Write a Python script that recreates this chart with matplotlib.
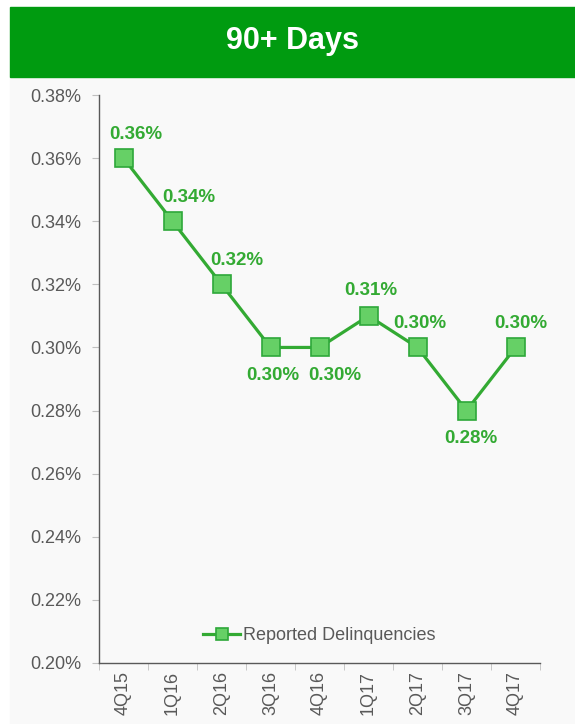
import numpy as np
import matplotlib.pyplot as plt
from matplotlib.patches import Rectangle

quarters = ['4Q15', '1Q16', '2Q16', '3Q16', '4Q16', '1Q17', '2Q17', '3Q17', '4Q17']
delinq = [0.36, 0.34, 0.32, 0.30, 0.30, 0.31, 0.30, 0.28, 0.30]
yticks = [0.20, 0.22, 0.24, 0.26, 0.28, 0.30, 0.32, 0.34, 0.36, 0.38]
# label offsets from the marker, in points (dx, dy); labels centred on that spot
label_off = [(9, 17), (11.5, 17), (11, 17), (1.5, -20), (11, -20),
             (2, 18), (2, 17), (3, -20), (3.5, 17)]

plt.rcParams['font.family'] = ['Liberation Sans', 'DejaVu Sans']

fig = plt.figure(figsize=(5.75, 7.24), dpi=100)
W, H = 575, 724
# panel background and title bar
fig.patches.append(Rectangle((10 / W, 0), 565 / W, 1 - 77 / H, transform=fig.transFigure,
                             color='#f9f9f9', zorder=-2))
fig.patches.append(Rectangle((10 / W, 1 - 77 / H), 565 / W, 70 / H, transform=fig.transFigure,
                             color='#009b10', zorder=-2))
fig.text(292 / W, 1 - 41 / H, '90+ Days', color='white', fontsize=22,
         fontweight='bold', ha='center', va='center')

ax = fig.add_axes([99 / W, 1 - 663 / H, (540 - 99) / W, (663 - 95) / H])
ax.set_zorder(2)
ax.set_facecolor('none')
x = np.arange(len(quarters))
ax.plot(x, delinq, color='#33aa33', lw=2.3, marker='s', markersize=13,
        markerfacecolor='#66d066', markeredgecolor='#2ea83a', markeredgewidth=1.2,
        label='Reported Delinquencies', zorder=3)

for i, v in enumerate(delinq):
    dx, dy = label_off[i]
    ax.annotate(f'{v:.2f}%', (i, v), xytext=(dx, dy), textcoords='offset points',
                ha='center', va='center', color='#33aa33', fontsize=13.5, fontweight='bold')

ax.set_xlim(-0.5, len(quarters) - 0.5)
ax.set_ylim(0.20, 0.38)
ax.set_yticks(yticks)
ax.set_yticklabels([f'{t:.2f}%' for t in yticks])
ax.set_xticks(x)
ax.set_xticklabels(quarters, rotation=90)
ax.set_xticks(np.arange(len(quarters) + 1) - 0.5, minor=True)
ax.tick_params(axis='x', which='major', length=0, pad=6, labelsize=13, labelcolor='#595959')
ax.tick_params(axis='x', which='minor', length=5, color='#bfbfbf', direction='out')
ax.tick_params(axis='y', length=5, color='#bfbfbf', labelsize=13, labelcolor='#595959', pad=8)
for s in ['top', 'right']:
    ax.spines[s].set_visible(False)
for s in ['left', 'bottom']:
    ax.spines[s].set_color('#595959')
    ax.spines[s].set_linewidth(1)

ax.legend(loc='center', bbox_to_anchor=(0.5, 27 / 568), frameon=False, fontsize=13,
          labelcolor='#595959', handlelength=2.05, handletextpad=0.15, markerscale=0.67)

fig.savefig('out.png', dpi=100)
